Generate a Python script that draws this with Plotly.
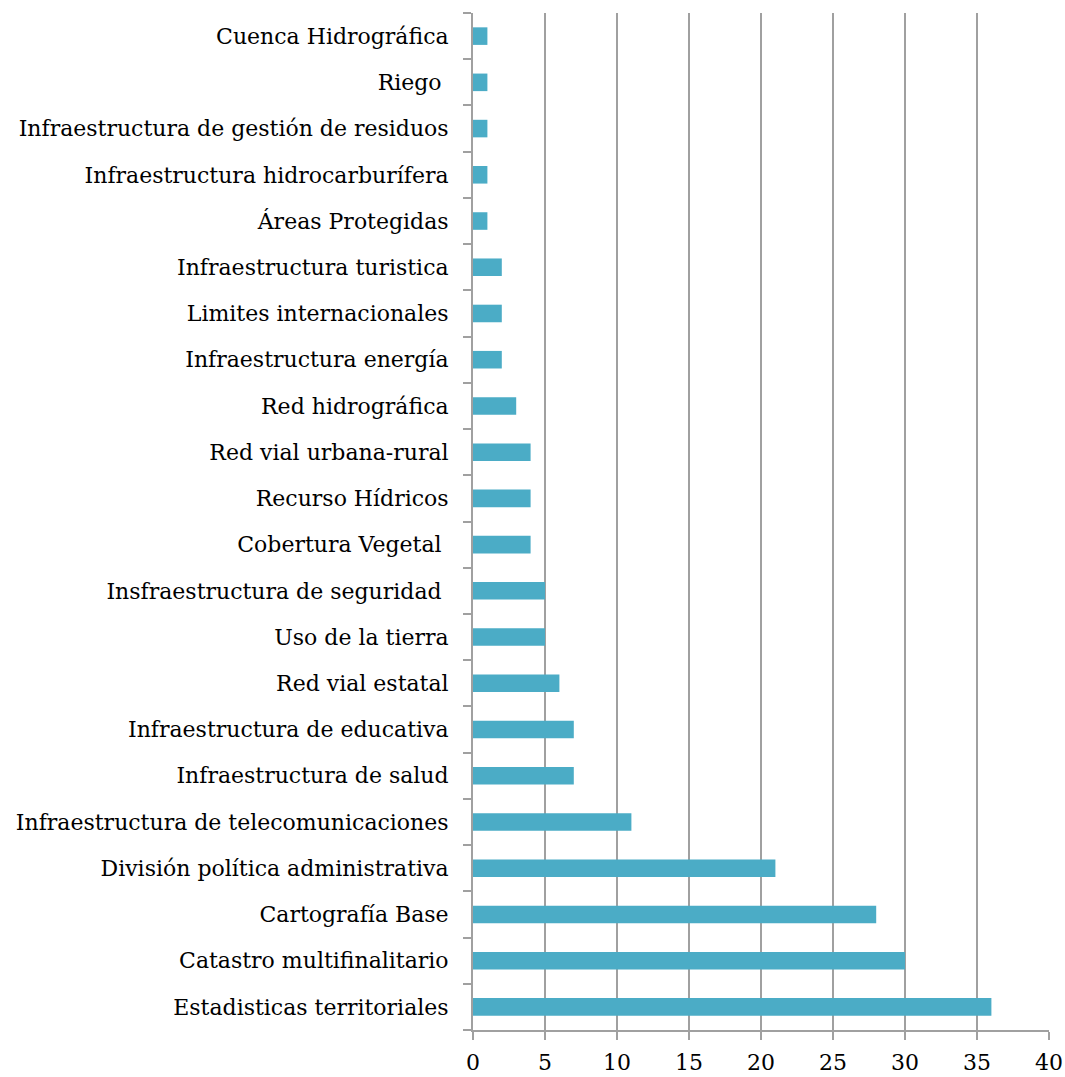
import plotly.graph_objects as go

categories = [
    "Estadisticas territoriales",
    "Catastro multifinalitario",
    "Cartografía Base",
    "División política administrativa",
    "Infraestructura de telecomunicaciones",
    "Infraestructura de salud",
    "Infraestructura de educativa",
    "Red vial estatal",
    "Uso de la tierra",
    "Insfraestructura de seguridad\u00a0",
    "Cobertura Vegetal\u00a0",
    "Recurso Hídricos",
    "Red vial urbana-rural",
    "Red hidrográfica",
    "Infraestructura energía",
    "Limites internacionales",
    "Infraestructura turistica",
    "Áreas Protegidas",
    "Infraestructura hidrocarburífera",
    "Infraestructura de gestión de residuos",
    "Riego\u00a0",
    "Cuenca Hidrográfica",
]
values = [36, 30, 28, 21, 11, 7, 7, 6, 5, 5, 4, 4, 4, 3, 2, 2, 2, 1, 1, 1, 1, 1]
x_ticks = [0, 5, 10, 15, 20, 25, 30, 35, 40]

grid = "#a0a0a0"
font_family = "DejaVu Serif"

fig = go.Figure(go.Bar(
    x=values, y=categories, orientation="h",
    marker=dict(color="#4BACC6", line=dict(width=0)),
))

fig.update_layout(
    width=1065, height=1077,
    margin=dict(l=473, r=16, t=13, b=47),
    paper_bgcolor="white", plot_bgcolor="white",
    bargap=0.62,
    showlegend=False,
    font=dict(family=font_family, size=22, color="black"),
)
fig.update_xaxes(
    range=[0, 40], tickvals=x_ticks, showgrid=True, gridcolor=grid, gridwidth=2,
    showline=True, linecolor=grid, linewidth=2,
    ticks="outside", ticklen=8, tickcolor=grid, tickwidth=2,
    zeroline=False, tickfont=dict(size=22), ticklabelstandoff=4,
    automargin=False,
)
fig.update_yaxes(
    type="category", categoryorder="array", categoryarray=categories,
    showgrid=False, showline=True, linecolor=grid, linewidth=2,
    ticks="outside", ticklen=8, tickcolor=grid, tickwidth=2,
    tickson="boundaries", ticklabelstandoff=18,
    tickfont=dict(size=22), automargin=False,
)

fig.write_html(
    "out.html",
    config={"displayModeBar": False},
    post_script="document.body.style.margin='0';document.body.style.overflow='hidden';",
)
